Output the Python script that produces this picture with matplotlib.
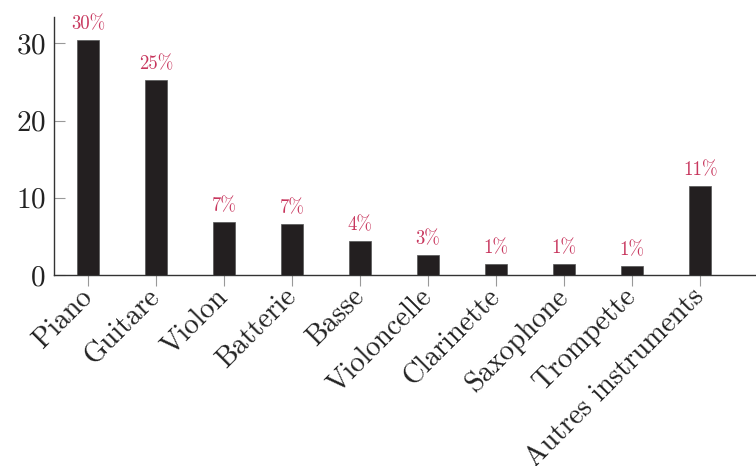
import matplotlib
matplotlib.use("Agg")
import matplotlib.pyplot as plt

categories = ["Piano", "Guitare", "Violon", "Batterie", "Basse", "Violoncelle",
              "Clarinette", "Saxophone", "Trompette", "Autres instruments"]
values = [30.4, 25.2, 6.8, 6.6, 4.4, 2.6, 1.4, 1.4, 1.2, 11.5]
labels = ["30%", "25%", "7%", "7%", "4%", "3%", "1%", "1%", "1%", "11%"]
yticks = [0, 10, 20, 30]

plt.rcParams['font.family'] = ['cmr10', 'DejaVu Serif']
plt.rcParams['axes.formatter.use_mathtext'] = True

fig = plt.figure(figsize=(7.56, 4.66), dpi=100)
fig.patch.set_facecolor('white')

ax = fig.add_axes([54/756, 1-275/466, 1-54/756, (275-17)/466])
ax.set_facecolor('none')
x = list(range(len(categories)))
ax.bar(x, values, width=0.32, color='#231f20', edgecolor='#555555', linewidth=0.5, zorder=3)
for xi, v, lab in zip(x, values, labels):
    ax.annotate(lab, (xi, v), xytext=(0, 5), textcoords='offset points',
                ha='center', va='bottom', fontsize=13.5, color='#c8375e')

ax.set_xlim(-0.5, 9.82)
ax.set_ylim(0, 33.4)
ax.set_yticks(yticks)
ax.set_xticks(x)
ax.set_xticklabels(categories, rotation=45, ha='right', va='center',
                   rotation_mode='anchor', fontsize=20.5)
ax.tick_params(axis='y', direction='in', length=8, color='#999999', labelsize=21, pad=6,
               labelcolor='#222222')
ax.tick_params(axis='x', direction='out', length=8, color='#999999', pad=5,
               labelcolor='#222222')
for s in ['top', 'right']:
    ax.spines[s].set_visible(False)
for s in ['left', 'bottom']:
    ax.spines[s].set_color('#333333')
    ax.spines[s].set_linewidth(1.0)

fig.savefig("out.png", dpi=100)
